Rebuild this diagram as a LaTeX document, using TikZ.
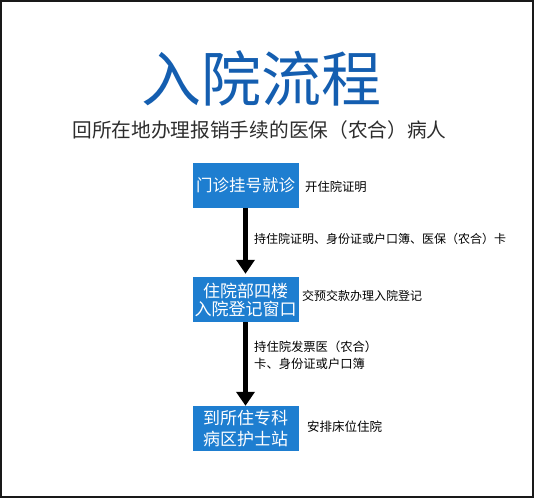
\documentclass[tikz,border=0pt]{standalone}
\usepackage{fontspec}
\setmainfont{Noto Sans CJK SC}
\usetikzlibrary{arrows.meta}
\definecolor{titleblue}{RGB}{20,94,176}
\definecolor{boxblue}{RGB}{30,126,208}
\definecolor{subgray}{RGB}{45,45,45}
\definecolor{framegray}{RGB}{25,25,25}
\tikzset{
  stepbox/.style={fill=boxblue, text=white, minimum width=106pt, minimum height=45pt,
    inner sep=0pt, align=center},
  sidenote/.style={anchor=west, inner sep=0pt, text=black, align=left,
    font=\fontsize{12.3}{17}\selectfont},
  flowarrow/.style={line width=5pt, -{Triangle[width=18pt,length=14pt]}}
}
\begin{document}
\begin{tikzpicture}[x=1pt,y=-1pt]
\useasboundingbox (0,0) rectangle (534,498);
\draw[framegray, line width=2pt] (1,1) rectangle (533,497);
\node[text=titleblue, inner sep=0pt, font=\fontsize{60}{60}\selectfont] (title) at (261,78) {入院流程};
\node[text=subgray, inner sep=0pt, font=\fontsize{19.7}{22}\selectfont] (subtitle) at (259.5,130) {回所在地办理报销手续的医保（农合）病人};
\node[stepbox, font=\fontsize{16.5}{18}\selectfont] (b1) at (245.5,185) {门诊挂号就诊};
\node[stepbox, font=\fontsize{17}{18}\selectfont] (b2) at (245.5,299.5) {住院部四楼\\入院登记窗口};
\node[stepbox, font=\fontsize{17}{21}\selectfont] (b3) at (245.5,428.5) {到所住专科\\病区护士站};
\node[sidenote] (n1) at (305,187) {开住院证明};
\node[sidenote, font=\fontsize{12}{17}\selectfont] (l1) at (254,239) {持住院证明、身份证或户口簿、医保（农合）卡};
\node[sidenote, font=\fontsize{12}{17}\selectfont] (n2) at (302,296) {交预交款办理入院登记};
\node[sidenote] (l2) at (254,355.5) {持住院发票医（农合）\\卡、身份证或户口簿};
\node[sidenote, font=\fontsize{12.5}{17}\selectfont] (n3) at (307,427) {安排床位住院};
\draw[flowarrow, shorten >=3pt] (b1.south) -- (b2.north);
\draw[flowarrow] (b2.south) -- (b3.north);
\end{tikzpicture}
\end{document}
